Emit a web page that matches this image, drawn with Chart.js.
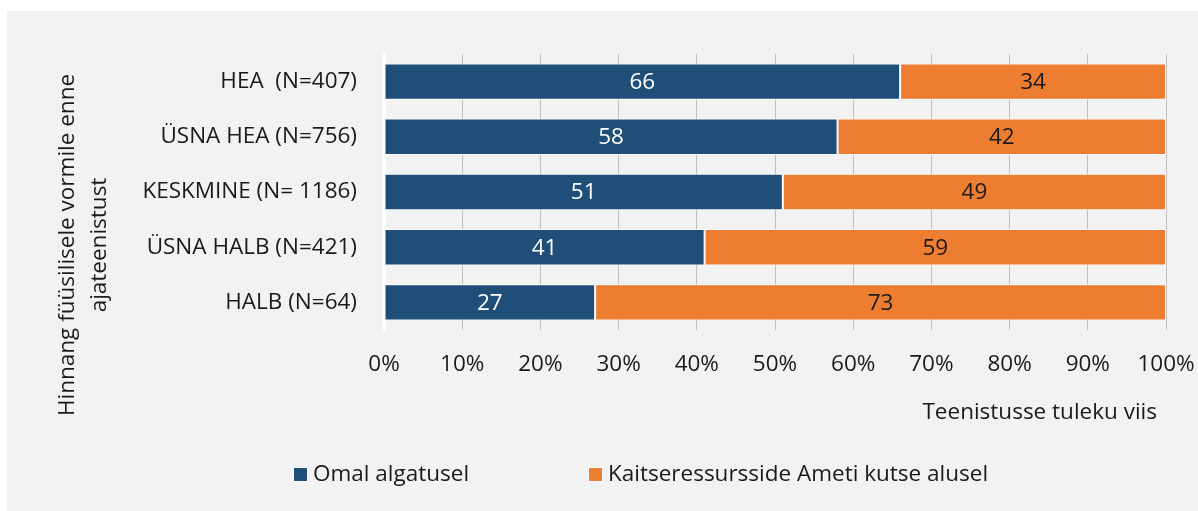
<!DOCTYPE html>
<html><head><meta charset="utf-8">
<script src="https://cdn.jsdelivr.net/npm/chart.js@4/dist/chart.umd.min.js"></script>
<style>html,body{margin:0;padding:0;background:#fff;overflow:hidden}#wrap{position:relative;width:1198px;height:511px}canvas{display:block}</style>
</head><body><div id="wrap"><canvas id="c" width="1198" height="511"></canvas></div>
<script>
const categories = ['HEA  (N=407)', 'ÜSNA HEA (N=756)', 'KESKMINE (N= 1186)', 'ÜSNA HALB (N=421)', 'HALB (N=64)'];
const seriesNames = ['Omal algatusel', 'Kaitseressursside Ameti kutse alusel'];
const omalAlgatusel = [66, 58, 51, 41, 27];
const kutseAlusel = [34, 42, 49, 59, 73];
const xTickValues = [0, 10, 20, 30, 40, 50, 60, 70, 80, 90, 100];
const yAxisTitle = ['Hinnang füüsilisele vormile enne', 'ajateenistust'];
const xAxisTitle = 'Teenistusse tuleku viis';

const FONT = '"Open Sans", "Noto Sans", sans-serif';
const FS = 22.5;
const BLUE = '#1f4e79', ORANGE = '#ed7d31', BG = '#f2f2f2', TXT = '#1a1a1a';

const decor = {
  id: 'decor',
  beforeDraw(chart) {
    const ctx = chart.ctx;
    ctx.save();
    ctx.fillStyle = '#ffffff';
    ctx.fillRect(0, 0, chart.width, chart.height);
    ctx.fillStyle = BG;
    ctx.fillRect(7, 11, chart.width - 7, chart.height - 11);
    ctx.restore();
  },
  afterDatasetsDraw(chart) {
    const ctx = chart.ctx;
    ctx.save();
    ctx.font = FS + 'px ' + FONT;
    ctx.textAlign = 'center';
    ctx.textBaseline = 'middle';
    chart.data.datasets.forEach((ds, di) => {
      const meta = chart.getDatasetMeta(di);
      meta.data.forEach((bar, i) => {
        const p = bar.getProps(['x', 'base', 'y'], true);
        ctx.fillStyle = di === 0 ? '#ffffff' : TXT;
        ctx.fillText(String(ds.data[i]), (p.x + p.base) / 2, p.y + 1);
      });
    });
    ctx.restore();
  },
  afterDraw(chart) {
    const ctx = chart.ctx;
    ctx.save();
    ctx.font = FS + 'px ' + FONT;
    ctx.fillStyle = TXT;
    ctx.textBaseline = 'middle';
    // x axis title
    ctx.textAlign = 'right';
    ctx.fillText(xAxisTitle, 1157, 413);
    // y axis title (rotated)
    ctx.textAlign = 'center';
    const xs = [68, 100];
    yAxisTitle.forEach((t, i) => {
      ctx.save();
      ctx.translate(xs[i], 245);
      ctx.rotate(-Math.PI / 2);
      ctx.fillText(t, 0, 0);
      ctx.restore();
    });
    // legend
    const lx = [293, 588];
    chart.data.datasets.forEach((ds, i) => {
      ctx.fillStyle = '#ffffff';
      ctx.fillRect(lx[i], 467, 15, 15);
      ctx.fillStyle = ds.backgroundColor;
      ctx.fillRect(lx[i] + 1, 468, 13, 13);
      ctx.fillStyle = TXT;
      ctx.textAlign = 'left';
      ctx.fillText(ds.label, lx[i] + 20, 475);
    });
    ctx.restore();
  }
};

new Chart(document.getElementById('c'), {
  type: 'bar',
  data: {
    labels: categories,
    datasets: [
      { label: seriesNames[0], data: omalAlgatusel, backgroundColor: BLUE, borderColor: '#ffffff', borderWidth: 1, borderSkipped: false },
      { label: seriesNames[1], data: kutseAlusel, backgroundColor: ORANGE, borderColor: '#ffffff', borderWidth: 1, borderSkipped: false }
    ]
  },
  options: {
    indexAxis: 'y',
    responsive: false,
    animation: false,
    devicePixelRatio: 1,
    layout: { padding: { left: 0, top: 54, right: 32, bottom: 0 } },
    datasets: { bar: { barPercentage: 0.66, categoryPercentage: 1 } },
    plugins: { legend: { display: false }, tooltip: { enabled: false } },
    scales: {
      x: {
        stacked: true, min: 0, max: 100,
        afterBuildTicks(scale) { scale.ticks = xTickValues.map(v => ({ value: v })); },
        afterFit(scale) { scale.height = 511 - 54 - 276; scale.paddingRight = 0; scale.paddingLeft = 0; },
        grid: { color: '#bfbfbf', lineWidth: 1, drawTicks: false },
        border: { display: false },
        ticks: { padding: 21, color: TXT, font: { family: FONT, size: FS }, callback: v => v + '%', maxRotation: 0, autoSkip: false }
      },
      y: {
        stacked: true,
        afterFit(scale) { scale.width = 384; scale.paddingTop = 0; scale.paddingBottom = 0; },
        grid: { display: false, drawTicks: false },
        border: { display: true, color: '#ffffff', width: 3 },
        ticks: { padding: 27, color: TXT, font: { family: FONT, size: FS } }
      }
    }
  },
  plugins: [decor]
});
</script>
</body></html>
